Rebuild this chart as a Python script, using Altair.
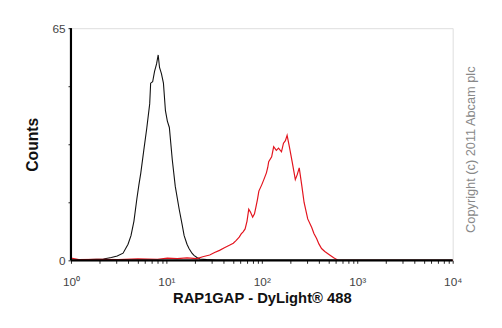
import altair as alt
import pandas as pd

# Histogram traces (x stored as log10 of fluorescence)
black_logx = [0.000, 0.186, 0.340, 0.423, 0.485, 0.546, 0.598, 0.629, 0.660, 0.691,
              0.711, 0.732, 0.763, 0.794, 0.825, 0.835, 0.856, 0.876, 0.897, 0.914,
              0.928, 0.948, 0.969, 0.990, 1.010, 1.031, 1.062, 1.093, 1.134, 1.165,
              1.186, 1.216, 1.237, 1.268, 1.289, 1.320, 1.351, 1.423, 1.526, 4.000]
black_counts = [0.0, 0.2, 0.4, 0.8, 1.2, 2.0, 4.5, 6.9, 11.0, 17.3,
                21.0, 24.5, 30.8, 36.9, 43.8, 49.6, 50.0, 52.9, 55.0, 57.5,
                54.0, 52.3, 49.6, 41.9, 39.0, 37.2, 28.1, 20.7, 14.3, 10.0,
                6.9, 4.5, 3.3, 2.0, 1.4, 0.8, 0.4, 0.2, 0.0, 0.0]

red_logx = [0.000, 0.082, 0.289, 0.495, 0.701, 0.907, 1.010, 1.113, 1.216, 1.320,
            1.381, 1.454, 1.505, 1.557, 1.608, 1.660, 1.701, 1.732, 1.763, 1.784,
            1.804, 1.825, 1.845, 1.863, 1.881, 1.904, 1.923, 1.938, 1.954, 1.969,
            2.000, 2.021, 2.048, 2.062, 2.072, 2.103, 2.124, 2.152, 2.175, 2.206,
            2.227, 2.247, 2.265, 2.289, 2.320, 2.351, 2.371, 2.392, 2.420, 2.443,
            2.481, 2.523, 2.546, 2.574, 2.598, 2.626, 2.660, 2.711, 2.753, 2.794,
            2.866, 4.000]
red_counts = [0.6, 0.2, 0.3, 0.2, 0.4, 0.3, 0.6, 0.5, 0.7, 0.5,
              1.0, 1.5, 2.2, 2.8, 3.5, 4.2, 4.8, 5.6, 6.5, 7.4,
              8.0, 8.8, 11.0, 14.3, 13.5, 12.1, 13.0, 14.9, 17.0, 19.4,
              21.2, 22.6, 24.5, 26.0, 27.6, 29.0, 31.8, 30.8, 31.4, 30.4,
              32.8, 33.5, 35.0, 31.8, 27.3, 22.6, 24.0, 25.9, 20.7, 16.2,
              11.6, 9.2, 7.5, 6.1, 4.6, 3.3, 2.5, 1.5, 0.7, 0.1,
              0.0, 0.0]

x_tick_values = [m * 10 ** d for d in range(4) for m in range(1, 10)] + [10000]
y_tick_values = [0, 16.25, 32.5, 48.75, 65]

# plot frame edges (in data units)
x_min, x_max = 1, 10000
y_min, y_max = 0, 65

df_black = pd.DataFrame({"x": [10 ** v for v in black_logx], "count": black_counts})
df_red = pd.DataFrame({"x": [10 ** v for v in red_logx], "count": red_counts})

font = "Liberation Sans"

x_scale = alt.Scale(type="log", domain=[x_min, x_max], nice=False)
y_scale = alt.Scale(domain=[y_min, y_max], nice=False, zero=True)

label_expr = ("datum.value == 1 ? '10⁰' : datum.value == 10 ? '10¹' : "
              "datum.value == 100 ? '10²' : datum.value == 1000 ? '10³' : "
              "datum.value == 10000 ? '10⁴' : ''")

x_axis = alt.Axis(values=x_tick_values, labelExpr=label_expr,
                  title="RAP1GAP - DyLight® 488", titleFont=font,
                  titleFontSize=15, titleFontWeight="bold", titleColor="#111",
                  titlePadding=3, labelFont=font, labelFontSize=12,
                  labelColor="#444", labelPadding=14, tickSize=3,
                  tickColor="#222", domain=False,
                  grid=False, labelFlush=False, labelOverlap=False)

black = alt.Chart(df_black).mark_line(color="#111111", strokeWidth=1.1).encode(
    x=alt.X("x:Q", scale=x_scale, axis=x_axis),
    y=alt.Y("count:Q", scale=y_scale,
            axis=alt.Axis(values=y_tick_values,
                          labelExpr="datum.value == 0 || datum.value == 65 ? datum.value : ''",
                          title="Counts", titleFont=font, titleFontSize=16,
                          titleFontWeight="bold", titleColor="#111", titlePadding=12,
                          labelFont=font, labelFontSize=12, labelColor="#444",
                          labelPadding=3, tickSize=3, tickColor="#222",
                          domain=False, grid=False,
                          labelFlush=False, labelOverlap=False)),
)

red = alt.Chart(df_red).mark_line(color="#e3141e", strokeWidth=1.2).encode(
    x=alt.X("x:Q", scale=x_scale, axis=x_axis),
    y=alt.Y("count:Q", scale=y_scale,
            axis=alt.Axis(orient="right", labels=False, ticks=False, domain=False,
                          grid=False, title="Copyright (c) 2011 Abcam plc",
                          titleAngle=270, titleBaseline="middle", titleFont=font,
                          titleFontSize=13, titleFontWeight="normal", titleColor="#888",
                          titlePadding=18, titleY=123)),
)

left_edge = alt.Chart(pd.DataFrame({"x": [x_min], "y": [y_min], "y2": [y_max]})).mark_rule(
    color="#000000", strokeWidth=2.2).encode(
    x=alt.X("x:Q", scale=x_scale, axis=x_axis),
    y=alt.Y("y:Q", scale=y_scale, axis=None), y2="y2:Q")
bottom_edge = alt.Chart(pd.DataFrame({"x": [x_min], "x2": [x_max], "y": [y_min]})).mark_rule(
    color="#000000", strokeWidth=2.2).encode(
    x=alt.X("x:Q", scale=x_scale, axis=x_axis), x2="x2:Q",
    y=alt.Y("y:Q", scale=y_scale, axis=None))

chart = alt.layer(black, red, left_edge, bottom_edge).resolve_axis(
    y="independent").properties(
    width=388, height=236,
    autosize=alt.AutoSizeParams(type="none"),
    padding={"left": 64, "top": 18, "right": 42, "bottom": 50},
).configure_view(stroke="#333333", strokeWidth=1.4).configure(background="white")

chart.save("out.html", embed_options={"renderer": "svg", "actions": False})
